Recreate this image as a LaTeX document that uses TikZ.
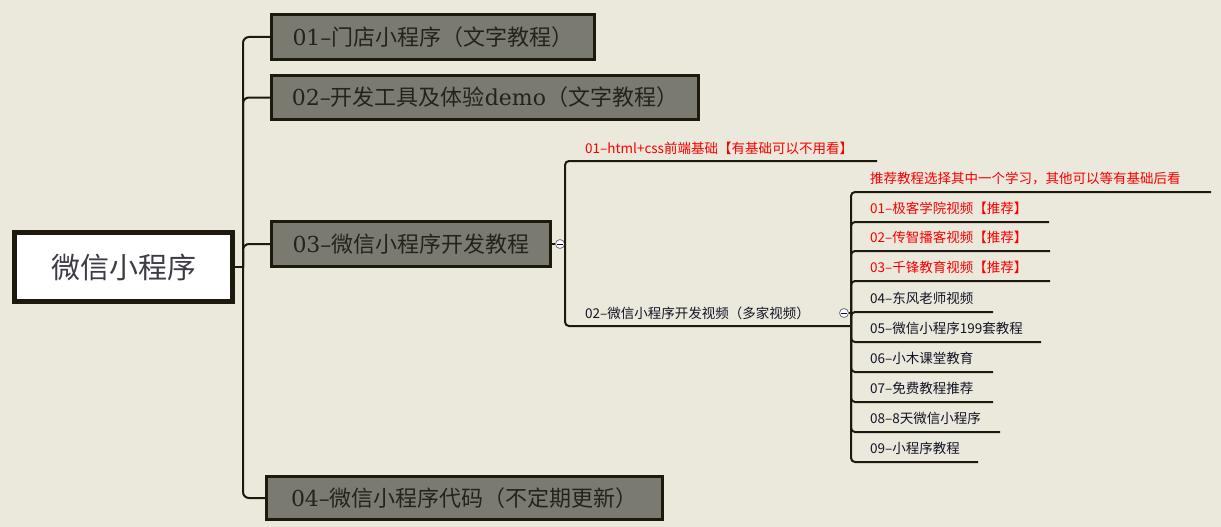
\documentclass[tikz,border=0pt]{standalone}
\usepackage{fontspec}
\setmainfont{Noto Sans CJK SC}
\newfontfamily\slab{DejaVu Serif}
\definecolor{bg}{RGB}{235,232,220}
\definecolor{boxgray}{RGB}{122,122,112}
\definecolor{ink}{RGB}{30,25,15}
\definecolor{tred}{RGB}{250,0,0}
\definecolor{tdark}{RGB}{20,20,35}
\definecolor{tgray}{RGB}{38,34,26}
\definecolor{rootink}{RGB}{60,60,72}
\tikzset{
	rootbox/.style={draw=ink, line width=5, fill=white, minimum width=218, minimum height=69,
		text=rootink, font=\fontsize{29}{34}\selectfont},
	topic/.style={draw=ink, line width=3, fill=boxgray, text=tgray, minimum height=45,
		font=\fontsize{22}{26}\selectfont},
	link/.style={draw=ink, line width=2, rounded corners=6},
	sublink/.style={draw=ink, line width=2, rounded corners=4},
	leaf/.style={anchor=west, inner sep=0, font=\fontsize{13.5}{16}\selectfont},
	fold/.style={circle, draw=black!55, fill=white, line width=.8, inner sep=0, minimum size=9,
		path picture={\draw[blue!40!black, line width=.8]
			([xshift=-2.6]path picture bounding box.center) -- ([xshift=2.6]path picture bounding box.center);}}
}
\begin{document}
\begin{tikzpicture}[x=1pt,y=-1pt]
	\fill[bg] (0,0) rectangle (1221,527);
	\useasboundingbox (0,0) rectangle (1221,527);

	% root and first level
	\node[rootbox] (root) at (123.5,267) {微信小程序};
	\coordinate (hub) at (243,267);
	\node[topic, minimum width=323] (n01) at (433,37) {{\slab 01–}门店小程序（文字教程）};
	\node[topic, minimum width=427, minimum height=44] (n02) at (485,97.5) {{\slab 02–}开发工具及体验{\slab demo}（文字教程）};
	\node[topic, minimum width=279] (n03) at (411,244) {{\slab 03–}微信小程序开发教程};
	\node[topic, minimum width=396, minimum height=43] (n04) at (464.5,498) {{\slab 04–}微信小程序代码（不定期更新）};

	\draw[link] (root.east) -- (hub);
	\foreach \n in {n01,n02,n03,n04}
		\draw[link] (hub) |- (\n.west);

	% second level under 03
	\node[fold] (c03) at (560,244) {};
	\draw[ink, line width=2] (n03.east) -- (c03.west);
	\coordinate (hub03) at (565,244);
	\draw[ink, line width=2] (c03.east) -- (hub03);

	\coordinate (e01) at (877,161);
	\coordinate (e02) at (851,326);
	\node[leaf, text=tred] (h01) at (585,148) {01–html+css前端基础【有基础可以不用看】};
	\node[leaf, text=tdark] (h02) at (585,313) {02–微信小程序开发视频（多家视频）};
	\draw[sublink] (hub03) |- (e01);
	\draw[sublink] (hub03) |- (e02);

	% third level under 02
	\node[fold] (c02) at (844,313) {};
	\coordinate (hub02) at (851,313);
	\draw[ink, line width=1.5] (c02.east) -- (hub02);
	\foreach \i/\y/\xe/\c/\txt in {
		r/192/1211/tred/{推荐教程选择其中一个学习，其他可以等有基础后看},
		a/222/1049/tred/{01–极客学院视频【推荐】},
		b/251/1050/tred/{02–传智播客视频【推荐】},
		c/281/1050/tred/{03–千锋教育视频【推荐】},
		d/312/993/tdark/{04–东风老师视频},
		e/342/1041/tdark/{05–微信小程序199套教程},
		f/372/993/tdark/{06–小木课堂教育},
		g/402/993/tdark/{07–免费教程推荐},
		h/432/1000/tdark/{08–8天微信小程序},
		k/462/978/tdark/{09–小程序教程}} {
		\coordinate (e\i) at (\xe,\y);
		\node[leaf, text=\c] (t\i) at (870,\y-14) {\txt};
		\draw[sublink] (hub02) |- (e\i);
	};
\end{tikzpicture}
\end{document}
